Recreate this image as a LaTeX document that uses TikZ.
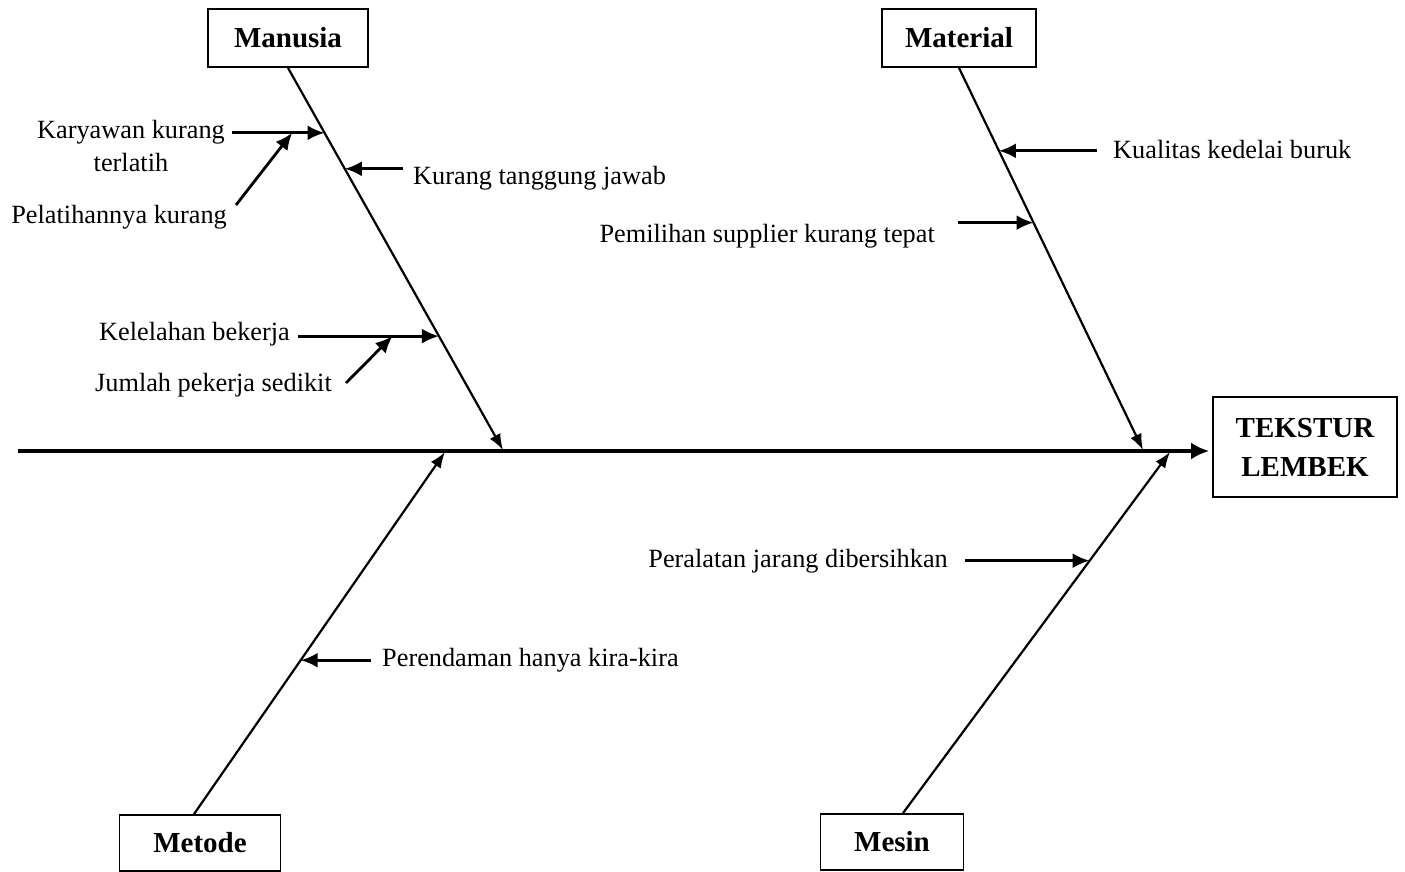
\documentclass[tikz,border=0pt]{standalone}
\usepackage{fontspec}
\setmainfont{Liberation Serif}
\usetikzlibrary{arrows.meta}
\usetikzlibrary{calc}
\tikzset{%
 >={Latex[length=17pt,width=15pt]},
 cause/.style={draw, line width=1.8pt, inner sep=0pt, align=center,
               font=\fontsize{29}{39}\selectfont\bfseries},
 note/.style={inner sep=0pt, align=center, font=\fontsize{26.3}{33}\selectfont},
 spine/.style={line width=3.2pt, -{Latex[length=18pt,width=17pt]}},
 bone/.style={line width=2.2pt, -{Latex[length=16pt,width=12pt]}},
 twig/.style={line width=2.8pt, ->}
}

\begin{document}
\begin{tikzpicture}[x=1pt, y=-1pt]
 \useasboundingbox (0,0) rectangle (1405,872);

 % heads of the bones
 \node [cause, minimum width=160pt, minimum height=58pt] (man) at (288,38) {Manusia};
 \node [cause, minimum width=154pt, minimum height=58pt] (mat) at (959,38) {Material};
 \node [cause, minimum width=161pt, minimum height=56pt] (met) at (200,843) {Metode};
 \node [cause, minimum width=143pt, minimum height=56pt] (mes) at (892,842) {Mesin};
 \node [cause, minimum width=184pt, minimum height=100pt] (eff) at (1305,447) {TEKSTUR\\LEMBEK};

 % spine
 \coordinate (tail) at (18,451);
 \draw [spine, shorten >=3pt] (tail) -- (tail -| eff.west);
 \coordinate (m1) at (503,450);
 \coordinate (m2) at (1143,450);
 \coordinate (m3) at (445,452);
 \coordinate (m4) at (1170,452);

 % Manusia
 \draw [bone] (man.south) -- coordinate [pos=.17] (k1) coordinate [pos=.264] (k2)
                             coordinate [pos=.702] (k3) (m1);
 \node [note, anchor=east] (kary) at (225,146) {Karyawan kurang\\terlatih};
 \node [note, anchor=east] (pel) at (227,217) {Pelatihannya kurang};
 \node [note, anchor=west] (kur) at (413,178) {Kurang tanggung jawab};
 \node [note, anchor=east] (kel) at (290,334) {Kelelahan bekerja};
 \node [note, anchor=east] (jum) at (332,385) {Jumlah pekerja sedikit};
 \draw [twig] ($(kary.east |- k1)+(7,0)$) -- coordinate [pos=.65] (k1a) (k1);
 \draw [twig] ($(pel.east)+(9,-12)$) -- (k1a);
 \draw [twig] ($(kur.west |- k2)+(-10,0)$) -- (k2);
 \draw [twig] ($(kel.east |- k3)+(8,0)$) -- coordinate [pos=.67] (k3a) (k3);
 \draw [twig] ($(jum.east)+(14,-2)$) -- (k3a);

 % Material
 \draw [bone] (mat.south) -- coordinate [pos=.217] (q1) coordinate [pos=.405] (q2) (m2);
 \node [note, anchor=west] (kua) at (1113,150) {Kualitas kedelai buruk};
 \node [note, anchor=east] (pem) at (935,236) {Pemilihan supplier kurang tepat};
 \draw [twig] ($(kua.west |- q1)+(-16,0)$) -- (q1);
 \draw [twig] ($(pem.east |- q2)+(23,0)$) -- (q2);

 % Metode
 \draw [bone] ([xshift=-6pt]met.north) -- coordinate [pos=.425] (r1) (m3);
 \node [note, anchor=west] (per) at (382,660) {Perendaman hanya kira-kira};
 \draw [twig] ($(per.west |- r1)+(-11,0)$) -- (r1);

 % Mesin
 \draw [bone] ([xshift=11pt]mes.north) -- coordinate [pos=.699] (s1) (m4);
 \node [note, anchor=east] (pal) at (948,561) {Peralatan jarang dibersihkan};
 \draw [twig] ($(pal.east |- s1)+(17,0)$) -- (s1);
\end{tikzpicture}
\end{document}
